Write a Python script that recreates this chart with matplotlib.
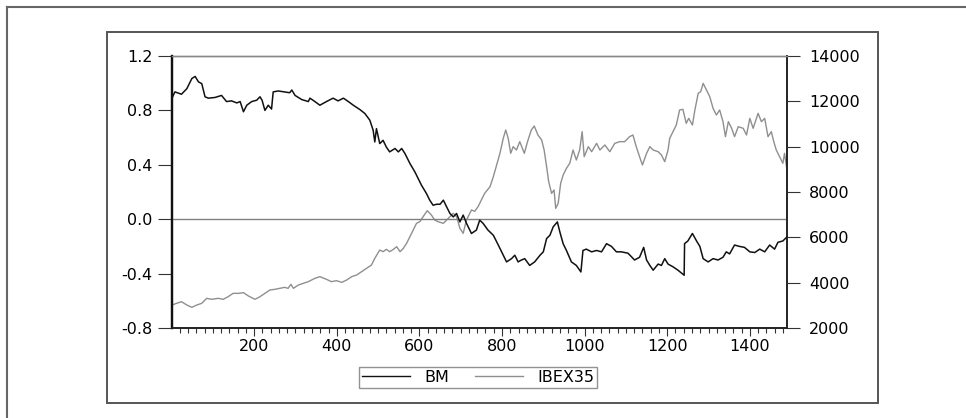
import matplotlib
matplotlib.use("Agg")
import matplotlib.pyplot as plt
from matplotlib.lines import Line2D
from matplotlib.patches import Rectangle
from matplotlib.ticker import MultipleLocator

# ---- data ----
bm_idx = [1, 8, 24, 37, 49, 57, 65, 73, 81, 89, 105, 121, 133, 145, 158, 166, 174, 182, 194, 206,
          214, 219, 226, 234, 242, 246, 258, 274, 286, 291, 299, 315, 331, 335, 347, 359, 375, 391,
          403, 416, 428, 440, 456, 468, 480, 488, 492, 496, 504, 512, 520, 528, 541, 549, 557, 565,
          577, 589, 597, 605, 617, 625, 633, 642, 650, 658, 666, 674, 682, 690, 698, 706, 714, 726,
          738, 746, 754, 766, 779, 791, 803, 811, 823, 831, 839, 847, 855, 867, 879, 892, 900, 908,
          916, 924, 934, 940, 948, 956, 968, 980, 991, 996, 1004, 1017, 1029, 1041, 1053, 1065,
          1077, 1089, 1105, 1121, 1133, 1143, 1150, 1158, 1166, 1178, 1186, 1194, 1202, 1214, 1226,
          1241, 1242, 1250, 1261, 1271, 1279, 1287, 1299, 1311, 1323, 1335, 1343, 1351, 1363, 1375,
          1387, 1400, 1412, 1424, 1436, 1448, 1460, 1468, 1480, 1490]
bm_val = [0.89, 0.936, 0.919, 0.96, 1.034, 1.05, 1.01, 0.997, 0.90, 0.89, 0.895, 0.91, 0.865, 0.87,
          0.855, 0.865, 0.79, 0.838, 0.865, 0.875, 0.90, 0.875, 0.80, 0.838, 0.81, 0.936, 0.943,
          0.936, 0.93, 0.95, 0.91, 0.88, 0.865, 0.89, 0.865, 0.838, 0.865, 0.89, 0.87, 0.89, 0.865,
          0.838, 0.806, 0.777, 0.728, 0.654, 0.568, 0.666, 0.556, 0.58, 0.53, 0.495, 0.52, 0.495,
          0.52, 0.483, 0.41, 0.348, 0.299, 0.25, 0.189, 0.14, 0.103, 0.11, 0.11, 0.14, 0.09, 0.042,
          0.017, 0.042, -0.02, 0.03, -0.03, -0.105, -0.08, -0.007, -0.03, -0.08, -0.118, -0.19,
          -0.265, -0.314, -0.29, -0.265, -0.314, -0.30, -0.29, -0.34, -0.314, -0.265, -0.24, -0.142,
          -0.118, -0.056, -0.02, -0.093, -0.18, -0.23, -0.314, -0.34, -0.388, -0.23, -0.22, -0.24,
          -0.23, -0.24, -0.18, -0.20, -0.24, -0.24, -0.25, -0.30, -0.28, -0.207, -0.30, -0.34,
          -0.375, -0.33, -0.34, -0.29, -0.33, -0.35, -0.375, -0.412, -0.18, -0.16, -0.105, -0.16,
          -0.20, -0.29, -0.314, -0.29, -0.30, -0.28, -0.24, -0.255, -0.19, -0.20, -0.207, -0.24,
          -0.245, -0.22, -0.24, -0.19, -0.22, -0.17, -0.16, -0.13]

ibex_idx = [1, 12, 24, 37, 49, 61, 73, 85, 97, 113, 125, 137, 149, 162, 174, 186, 202, 214, 226,
            238, 250, 262, 274, 282, 289, 295, 307, 319, 331, 347, 359, 375, 387, 399, 412, 424,
            436, 448, 460, 472, 484, 492, 504, 512, 520, 528, 537, 545, 553, 561, 569, 577, 585,
            593, 601, 609, 619, 629, 637, 645, 658, 670, 682, 690, 698, 706, 714, 726, 734, 742,
            750, 758, 771, 779, 787, 795, 803, 809, 815, 821, 827, 835, 843, 854, 863, 871, 878,
            887, 896, 902, 908, 913, 920, 926, 930, 936, 942, 948, 956, 964, 972, 980, 988, 994,
            999, 1009, 1017, 1029, 1037, 1049, 1061, 1073, 1085, 1097, 1109, 1117, 1125, 1133,
            1140, 1150, 1158, 1166, 1178, 1186, 1194, 1202, 1206, 1214, 1222, 1230, 1238, 1246,
            1252, 1261, 1267, 1275, 1281, 1287, 1295, 1303, 1311, 1319, 1327, 1335, 1341, 1348,
            1356, 1363, 1372, 1384, 1392, 1400, 1408, 1420, 1428, 1436, 1444, 1452, 1458, 1464,
            1472, 1480, 1484, 1490]
ibex_val = [3014, 3088, 3161, 3014, 2912, 3014, 3088, 3309, 3265, 3309, 3265, 3382, 3529, 3529,
            3559, 3412, 3265, 3382, 3529, 3676, 3706, 3750, 3794, 3750, 3926, 3750, 3897, 3970,
            4044, 4191, 4265, 4147, 4044, 4088, 4014, 4117, 4265, 4338, 4485, 4632, 4779, 5073,
            5441, 5367, 5470, 5367, 5470, 5588, 5367, 5514, 5735, 6029, 6323, 6618, 6691, 6912,
            7176, 6985, 6765, 6691, 6618, 6838, 7059, 6912, 6397, 6177, 6765, 7206, 7150, 7353,
            7647, 7941, 8235, 8676, 9191, 9706, 10368, 10735, 10368, 9706, 10000, 9853, 10221,
            9706, 10294, 10735, 10912, 10515, 10294, 9853, 9118, 8456, 7941, 8088, 7280, 7500,
            8382, 8750, 9044, 9265, 9853, 9412, 9853, 10662, 9559, 10000, 9779, 10147, 9853,
            10074, 9779, 10147, 10221, 10221, 10441, 10515, 10000, 9559, 9191, 9706, 10000, 9853,
            9779, 9632, 9338, 9853, 10368, 10662, 10956, 11618, 11647, 11029, 11250, 10956, 11618,
            12353, 12426, 12794, 12500, 12206, 11691, 11397, 11618, 11103, 10441, 11103, 10809,
            10441, 10882, 10809, 10515, 11250, 10809, 11471, 11103, 11250, 10441, 10662, 10221,
            9853, 9559, 9265, 9706, 8970]

left_ticks = [1.2, 0.8, 0.4, 0.0, -0.4, -0.8]
left_labels = ["1.2", "0.8", "0.4", "0.0", "-0.4", "-0.8"]
right_ticks = [2000, 4000, 6000, 8000, 10000, 12000, 14000]
x_major = [200, 400, 600, 800, 1000, 1200, 1400]

W, H = 966, 418
fig = plt.figure(figsize=(W / 100, H / 100), dpi=100)
plt.rcParams['font.family'] = ['DejaVu Sans']

# outer frame fragments and chart panel
fig.add_artist(Line2D([7 / W, 7 / W], [0, 1 - 7 / H], color="#666666", lw=1.5,
                      transform=fig.transFigure))
fig.add_artist(Line2D([7 / W, 1], [1 - 7 / H, 1 - 7 / H], color="#666666", lw=1.5,
                      transform=fig.transFigure))
fig.add_artist(Rectangle((107 / W, 1 - 403 / H), (878 - 107) / W, (403 - 32) / H,
                         fill=False, edgecolor="#555555", lw=1.4, transform=fig.transFigure))

ax = fig.add_axes([172 / W, 1 - 328 / H, 615 / W, 272 / H])
ax2 = ax.twinx()

ax.plot(bm_idx, bm_val, color="#111111", lw=1.1, zorder=3)
ax2.plot(ibex_idx, ibex_val, color="#8f8f8f", lw=1.0, zorder=2)
ax.axhline(0.0, color="#808080", lw=1.0, zorder=1)

ax.set_xlim(1, 1490)
ax.set_ylim(-0.8, 1.2)
ax2.set_ylim(2000, 14000)
ax.set_zorder(ax2.get_zorder() + 1)
ax.patch.set_visible(False)

ax.set_yticks(left_ticks)
ax.set_yticklabels(left_labels)
ax2.set_yticks(right_ticks)
ax.set_xticks(x_major)
ax.xaxis.set_minor_locator(MultipleLocator(20))

fs = 11.5
ax.tick_params(axis="y", direction="out", length=10, width=0.8, pad=4, labelsize=fs,
               color="#333333")
ax2.tick_params(axis="y", direction="out", length=9, width=0.8, pad=7, labelsize=fs,
                color="#333333")
ax.tick_params(axis="x", which="major", direction="out", length=6, width=0.8, pad=2,
               labelsize=fs, color="#333333")
ax.tick_params(axis="x", which="minor", direction="out", length=3.5, width=0.8,
               color="#333333")

for a in (ax, ax2):
    a.spines["top"].set_color("#888888")
    a.spines["top"].set_linewidth(1.0)
    a.spines["left"].set_color("#111111")
    a.spines["left"].set_linewidth(1.6)
    a.spines["right"].set_color("#222222")
    a.spines["right"].set_linewidth(1.2)
    a.spines["bottom"].set_color("#222222")
    a.spines["bottom"].set_linewidth(1.2)

handles = [Line2D([], [], color="#111111", lw=1.0), Line2D([], [], color="#8f8f8f", lw=1.0)]
leg = fig.legend(handles, ["BM", "IBEX35"], loc="center",
                 bbox_to_anchor=(478 / W, 1 - 377.5 / H), ncol=2, frameon=True,
                 fancybox=False, fontsize=fs, handlelength=3.0, handletextpad=0.9,
                 columnspacing=1.6, borderpad=0.2, borderaxespad=0)
leg.get_frame().set_edgecolor("#777777")
leg.get_frame().set_linewidth(1.0)

fig.savefig("out.png", dpi=100)
